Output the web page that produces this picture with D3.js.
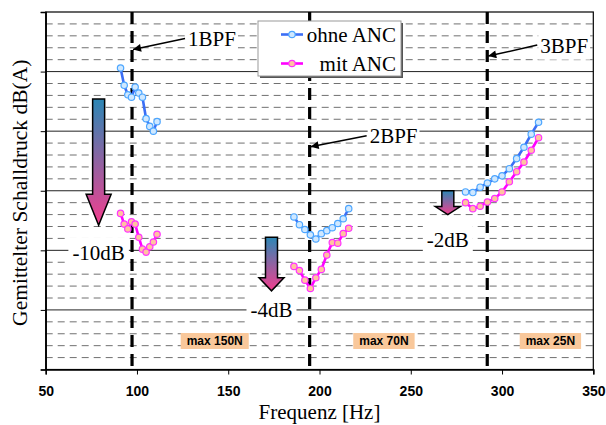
<!DOCTYPE html>
<html>
<head>
<meta charset="utf-8">
<script src="https://cdn.jsdelivr.net/npm/d3@7"></script>
<style>
  body { margin: 0; background: #fff; }
  svg { display: block; }
</style>
</head>
<body>
<div id="chart"></div>
<script>
// measured series, three frequency clusters (Hz) and level in dB (arbitrary offset)
const freqLow = [91, 93, 95, 97, 99, 101, 103, 105, 107, 109, 111];
const ohneLow = [25.3, 23.85, 23.05, 22.85, 23.7, 23.2, 22.85, 21.05, 20.4, 20.0, 20.8];
const mitLow = [13.1, 12.2, 11.8, 12.4, 12.2, 11.1, 10.1, 9.85, 10.3, 10.7, 11.35];

const freqMid = [186, 189, 192, 195, 198, 201, 204, 207, 210, 213, 216];
const ohneMid = [12.8, 12.15, 11.75, 11.3, 10.95, 11.4, 11.65, 11.9, 12.25, 12.65, 13.5];
const mitMid = [8.65, 8.3, 7.5, 6.8, 7.7, 8.4, 9.6, 10.65, 10.6, 11.4, 11.85];

const freqHigh = [280, 284, 288, 292, 296, 300, 304, 308, 312, 316, 320];
const ohneHigh = [14.9, 14.85, 15.3, 15.65, 16.0, 16.25, 16.85, 17.7, 18.65, 19.75, 20.75];
const mitHigh = [14.0, 13.5, 13.7, 14.05, 14.35, 14.9, 15.75, 16.6, 17.4, 18.4, 19.45];

const xTicks = [50, 100, 150, 200, 250, 300, 350];

// blade pass frequencies and where the pointer arrows hit them
const bpfFreq = [97.3, 194.6, 291.9];
const bpfLabels = ["1BPF", "2BPF", "3BPF"];
const bpfTipDb = [26.85, 18.7, 26.3];

// reduction arrows: frequency, from level, to level
const dropFreq = [79, 173.7, 270.3];
const dropFrom = [22.7, 11.1, 15.0];
const dropTo = [12.1, 6.6, 13.0];
const dropLabels = ["-10dB", "-4dB", "-2dB"];

// force boxes under the clusters
const forceFreq = [142.6, 235.3, 326.5];
const forceLabels = ["max 150N", "max 70N", "max 25N"];

const seriesNames = ["ohne ANC", "mit ANC"];

const W = 606, H = 425;
const serif = "'Liberation Serif', 'Times New Roman', serif";
const sans = "'Liberation Sans', Arial, sans-serif";

const x = d3.scaleLinear().domain([50, 350]).range([45.7, 593.3]);
const y = d3.scaleLinear().domain([0, 30]).range([369.5, 12]);

const svg = d3.select("#chart").append("svg")
  .attr("width", W).attr("height", H);

const defs = svg.append("defs");
const grad = defs.append("linearGradient")
  .attr("id", "drop-grad")
  .attr("x1", 0).attr("y1", 0).attr("x2", 0).attr("y2", 1);
grad.append("stop").attr("offset", "0%").attr("stop-color", "#2c87b5");
grad.append("stop").attr("offset", "100%").attr("stop-color", "#f43e8e");

defs.append("marker")
  .attr("id", "head")
  .attr("viewBox", "0 0 10 10")
  .attr("refX", 10).attr("refY", 5)
  .attr("markerWidth", 12).attr("markerHeight", 8)
  .attr("markerUnits", "userSpaceOnUse")
  .attr("orient", "auto")
  .append("path").attr("d", "M0,0L10,5L0,10Z").attr("fill", "#000");

const [x0, x1] = x.range();
const [yb, yt] = y.range();

// grid
const minor = d3.range(1, 30).filter(d => d % 5 !== 0);
const major = d3.range(5, 30, 5);

svg.append("g").selectAll("line").data(minor).join("line")
  .attr("x1", x0).attr("x2", x1)
  .attr("y1", d => y(d)).attr("y2", d => y(d))
  .attr("stroke", "#707070").attr("stroke-width", 1)
  .attr("stroke-dasharray", "7,5");

svg.append("g").selectAll("line").data(major).join("line")
  .attr("x1", x0).attr("x2", x1)
  .attr("y1", d => y(d)).attr("y2", d => y(d))
  .attr("stroke", "#222").attr("stroke-width", 1);

// frame
svg.append("rect")
  .attr("x", x0).attr("y", yt)
  .attr("width", x1 - x0).attr("height", yb - yt)
  .attr("fill", "none").attr("stroke", "#000").attr("stroke-width", 1.2);

// axes
const xAxis = svg.append("g")
  .attr("transform", `translate(0,${yb})`)
  .call(d3.axisBottom(x).tickValues(xTicks).tickSize(5).tickPadding(12));
xAxis.select(".domain").attr("stroke", "#000").attr("stroke-width", 1.5);
xAxis.selectAll(".tick line").attr("stroke", "#000");
xAxis.selectAll("text")
  .style("font-family", sans).style("font-size", "14px")
  .style("font-weight", "bold").attr("fill", "#000");

const yAxis = svg.append("g")
  .attr("transform", `translate(${x0},0)`)
  .call(d3.axisLeft(y).tickValues([0, 5, 10, 15, 20, 25, 30]).tickSize(5).tickFormat(""));
yAxis.select(".domain").attr("stroke", "#000").attr("stroke-width", 1.5);
yAxis.selectAll(".tick line").attr("stroke", "#000");

// BPF dashed lines
svg.append("g").selectAll("line").data(bpfFreq).join("line")
  .attr("x1", d => x(d)).attr("x2", d => x(d))
  .attr("y1", yt).attr("y2", yb)
  .attr("stroke", "#000").attr("stroke-width", 3.2)
  .attr("stroke-dasharray", "12,7");

// helper: text with white background
function boxedText(g, tx, ty, str, opts) {
  const t = g.append("text")
    .attr("x", tx).attr("y", ty)
    .attr("text-anchor", opts.anchor || "start")
    .style("font-family", opts.font).style("font-size", opts.size)
    .style("font-weight", opts.weight || "normal")
    .attr("fill", "#000")
    .text(str);
  const b = t.node().getBBox();
  const p = opts.pad || 3;
  g.insert("rect", () => t.node())
    .attr("x", b.x - p).attr("y", b.y - (opts.padY ?? p))
    .attr("width", b.width + 2 * p).attr("height", b.height + 2 * (opts.padY ?? p))
    .attr("fill", opts.fill || "#fff");
  return t;
}

// BPF labels with pointer arrows
const ann = svg.append("g");
const tailDx = [52, 56, 49];
bpfFreq.forEach((f, i) => {
  const tipX = x(f) + 1, tipY = y(bpfTipDb[i]);
  const tailX = tipX + tailDx[i], tailY = tipY - 11;
  boxedText(ann, tailX + 3, tailY + 7.5, bpfLabels[i], { font: serif, size: "21px", pad: 2 });
  ann.append("line")
    .attr("x1", tailX).attr("y1", tailY)
    .attr("x2", tipX).attr("y2", tipY)
    .attr("stroke", "#000").attr("stroke-width", 1.5)
    .attr("marker-end", "url(#head)");
});

// force boxes
forceFreq.forEach((f, i) => {
  boxedText(svg.append("g"), x(f), 345, forceLabels[i], {
    font: sans, size: "12px", weight: "bold", anchor: "middle",
    pad: 6, padY: 1, fill: "#f9c89b"
  });
});

// legend
const lg = svg.append("g");
lg.append("rect").attr("x", 260).attr("y", 23).attr("width", 143).attr("height", 55)
  .attr("fill", "#555");
lg.append("rect").attr("x", 258).attr("y", 21).attr("width", 143).attr("height", 55)
  .attr("fill", "#fff").attr("stroke", "#999").attr("stroke-width", 1);

// series
const series = [
  { name: seriesNames[0], color: "#3b6ef5", mStroke: "#4da6ff", mFill: "#cfe8ff",
    parts: [[freqLow, ohneLow], [freqMid, ohneMid], [freqHigh, ohneHigh]] },
  { name: seriesNames[1], color: "#ff00ff", mStroke: "#ff33ff", mFill: "#ffc2a0",
    parts: [[freqLow, mitLow], [freqMid, mitMid], [freqHigh, mitHigh]] }
];

const line = d3.line().x(d => x(d[0])).y(d => y(d[1]));

series.forEach((s, si) => {
  const g = svg.append("g");
  s.parts.forEach(([fs, vs]) => {
    const pts = fs.map((f, k) => [f, vs[k]]);
    g.append("path").datum(pts)
      .attr("d", line).attr("fill", "none")
      .attr("stroke", s.color).attr("stroke-width", 2.6);
    g.selectAll(null).data(pts).join("circle")
      .attr("cx", d => x(d[0])).attr("cy", d => y(d[1])).attr("r", 3.2)
      .attr("fill", s.mFill).attr("stroke", s.mStroke).attr("stroke-width", 1.2);
  });

  const ly = 34.5 + si * 29;
  lg.append("line").attr("x1", 281).attr("x2", 303).attr("y1", ly).attr("y2", ly)
    .attr("stroke", s.color).attr("stroke-width", 2.6);
  lg.append("circle").attr("cx", 292).attr("cy", ly).attr("r", 3.2)
    .attr("fill", s.mFill).attr("stroke", s.mStroke).attr("stroke-width", 1.2);
  lg.append("text").attr("x", 396).attr("y", ly + 7)
    .attr("text-anchor", "end")
    .style("font-family", serif).style("font-size", "21px")
    .text(s.name);
});

// reduction block arrows
const drops = svg.append("g");
const labelGap = [35, 26, 32];
dropFreq.forEach((f, i) => {
  const cx = x(f), top = y(dropFrom[i]), tip = y(dropTo[i]);
  const len = tip - top;
  const head = Math.max(8, 0.245 * len);
  const sw = 6, hw = 12.5;
  const d = `M${cx - sw},${top} L${cx + sw},${top} L${cx + sw},${tip - head} L${cx + hw},${tip - head}
    L${cx},${tip} L${cx - hw},${tip - head} L${cx - sw},${tip - head} Z`;
  drops.append("path").attr("d", d)
    .attr("fill", "url(#drop-grad)").attr("stroke", "#000").attr("stroke-width", 1.5)
    .attr("stroke-linejoin", "miter");
  boxedText(drops, cx, tip + labelGap[i], dropLabels[i], {
    font: serif, size: "21px", anchor: "middle", pad: 4
  });
});

// axis titles
svg.append("text")
  .attr("x", (x0 + x1) / 2).attr("y", 419)
  .attr("text-anchor", "middle")
  .style("font-family", serif).style("font-size", "21px")
  .text("Frequenz [Hz]");

svg.append("text")
  .attr("transform", `translate(27,${(yt + yb) / 2 + 2}) rotate(-90)`)
  .attr("text-anchor", "middle")
  .style("font-family", serif).style("font-size", "21.5px")
  .text("Gemittelter Schalldruck dB(A)");
</script>
</body>
</html>
